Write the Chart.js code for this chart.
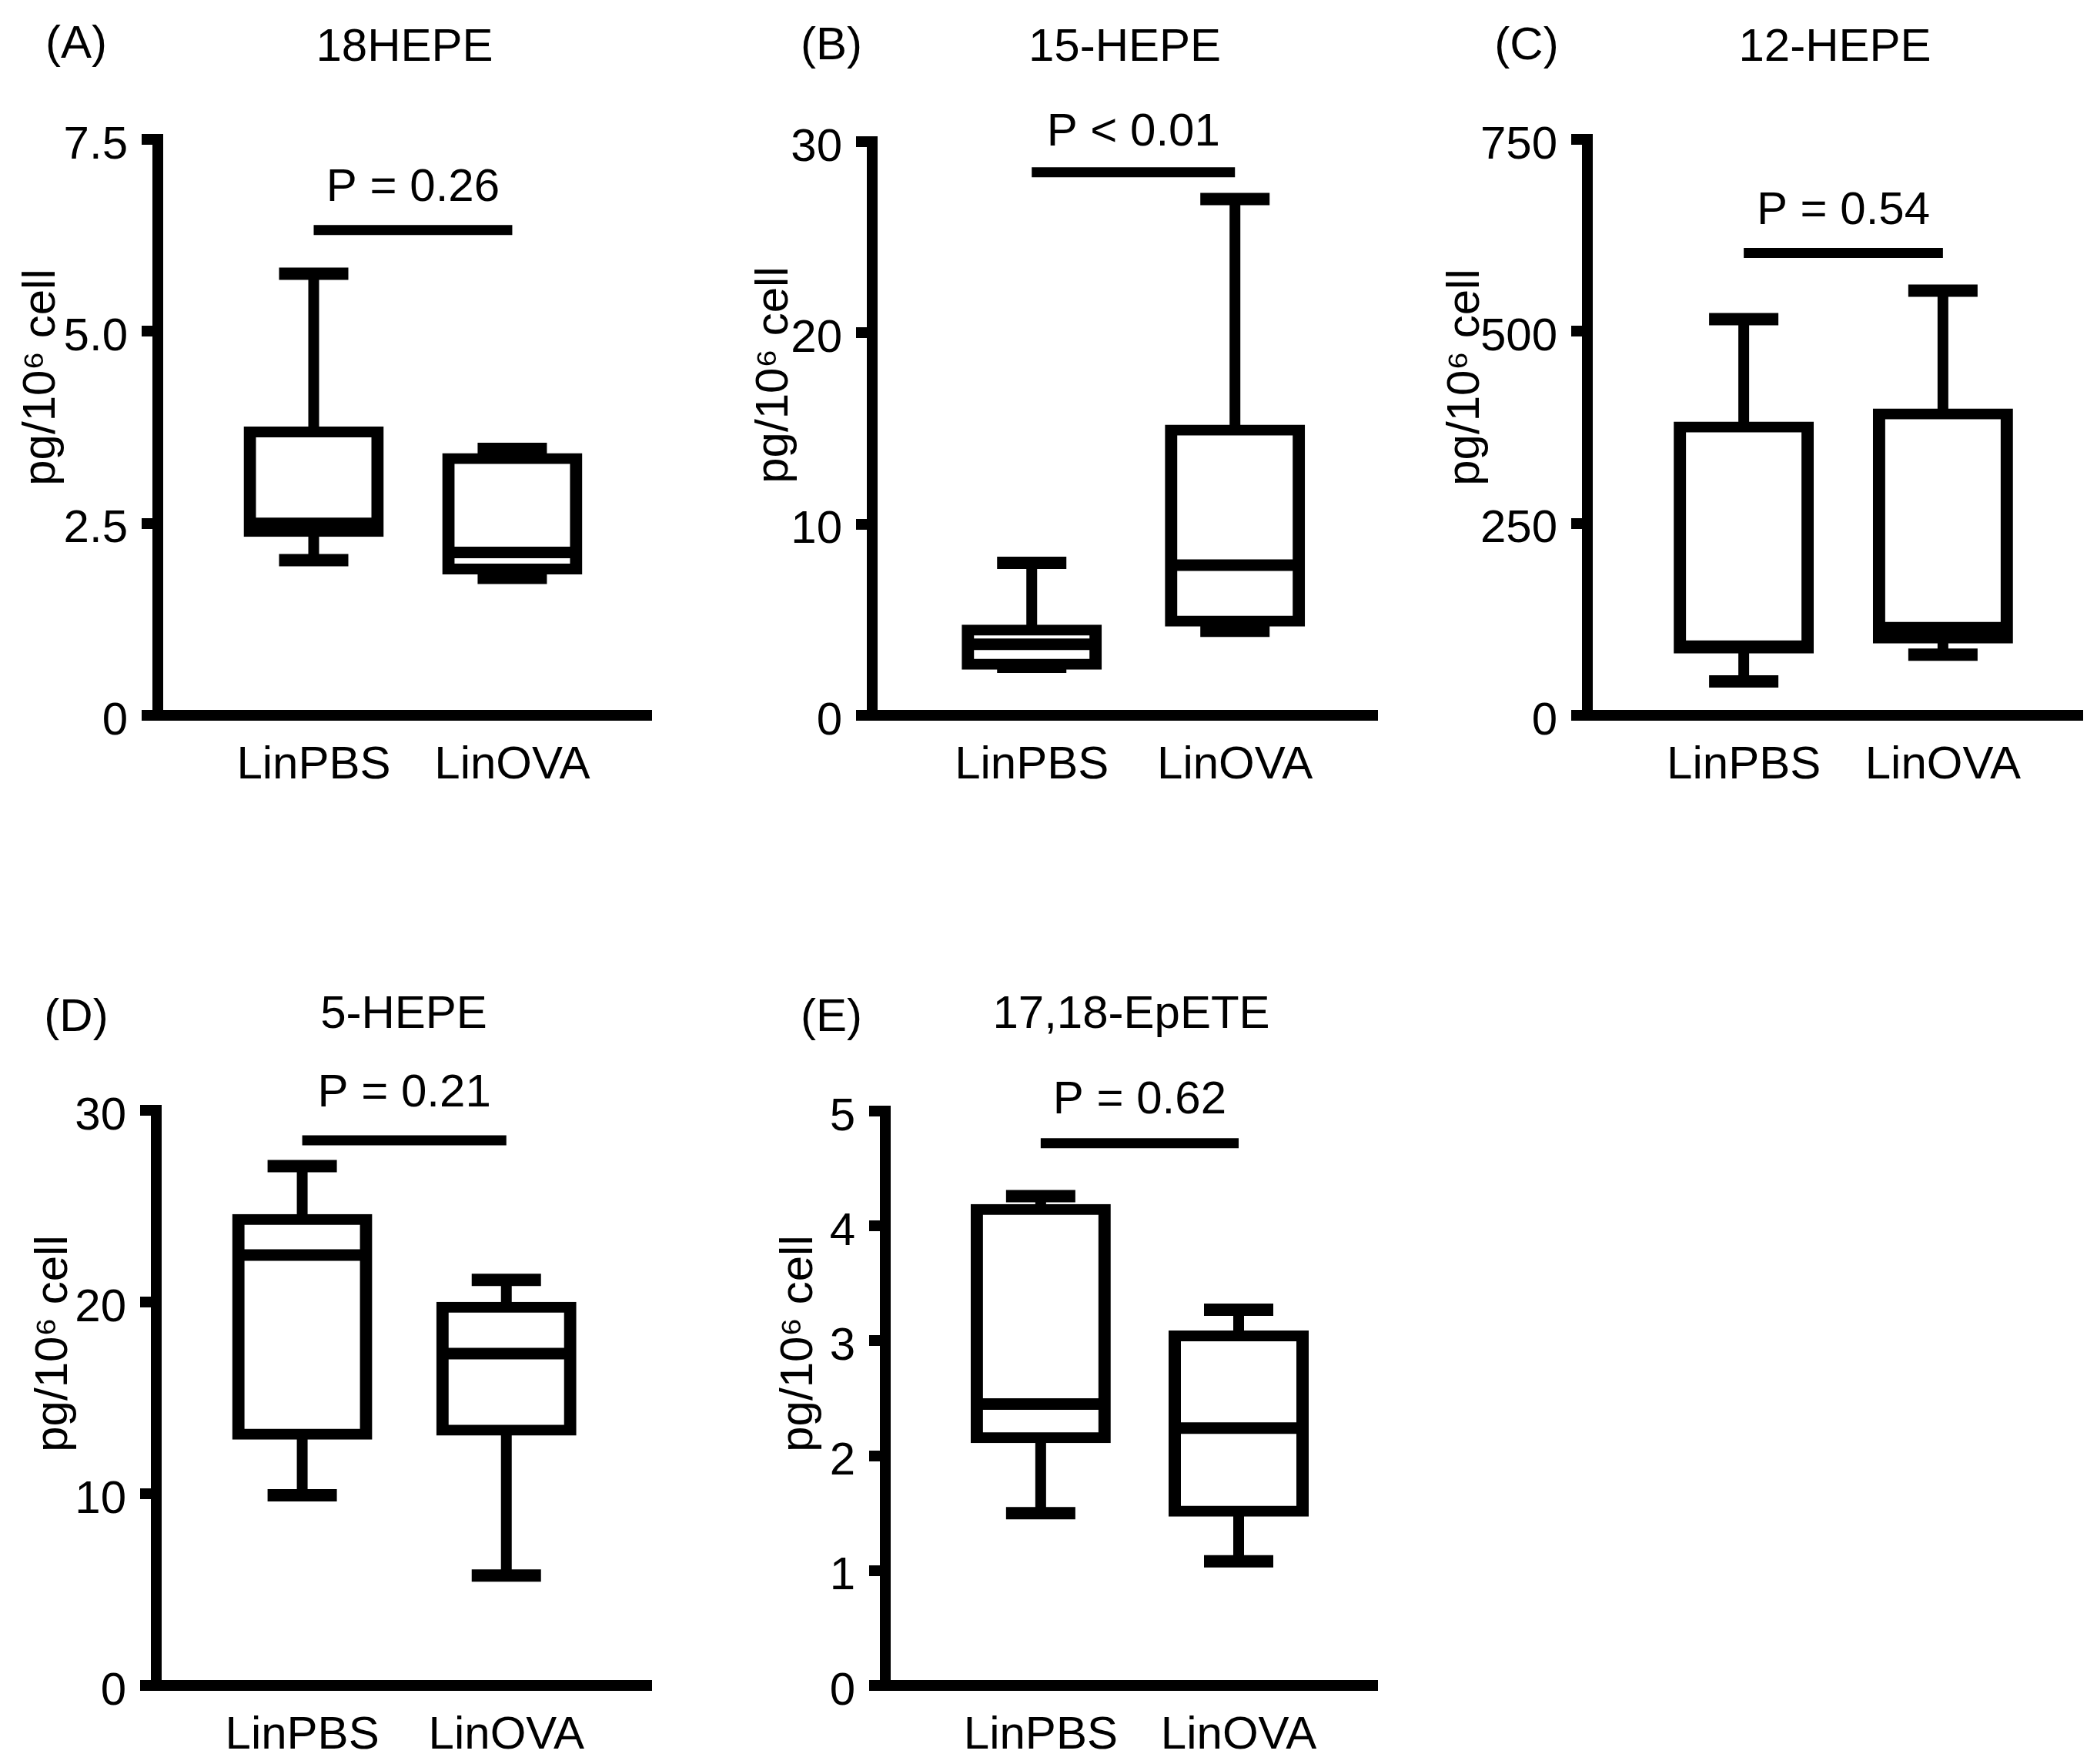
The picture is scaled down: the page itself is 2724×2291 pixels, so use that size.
<!DOCTYPE html>
<html><head><meta charset="utf-8">
<script src="https://cdn.jsdelivr.net/npm/chart.js@4.4.1/dist/chart.umd.min.js"></script>
<style>
html,body{margin:0;padding:0;background:#fff;}
body{width:2724px;height:2291px;position:relative;overflow:hidden;}
canvas{position:absolute;}
</style></head><body>
<canvas id="cA" width="900" height="1150" style="left:0px;top:0px"></canvas>
<canvas id="cB" width="930" height="1150" style="left:900px;top:0px"></canvas>
<canvas id="cC" width="894" height="1150" style="left:1830px;top:0px"></canvas>
<canvas id="cD" width="900" height="1032" style="left:0px;top:1259px"></canvas>
<canvas id="cE" width="930" height="1032" style="left:900px;top:1259px"></canvas>
<script>
// ---------- DATA ----------
const categories = ['LinPBS', 'LinOVA'];
const panelTitles = ['18HEPE', '15-HEPE', '12-HEPE', '5-HEPE', '17,18-EpETE'];
const panelLetters = ['(A)', '(B)', '(C)', '(D)', '(E)'];
const yAxisLabel = 'pg/10\u2076 cell';
const pValueLabels = ['P = 0.26', 'P < 0.01', 'P = 0.54', 'P = 0.21', 'P = 0.62'];
// box statistics: [min, Q1, median, Q3, max]
const hepe18PBS = [2.02, 2.40, 2.50, 3.685, 5.75];
const hepe18OVA = [1.79, 1.91, 2.12, 3.34, 3.47];
const hepe15PBS = [2.54, 2.69, 3.71, 4.44, 7.97];
const hepe15OVA = [4.42, 4.94, 7.85, 14.9, 27.0];
const hepe12PBS = [44, 88, 90, 375, 516];
const hepe12OVA = [79, 101, 114, 392, 553];
const hepe5PBS = [9.92, 13.12, 22.45, 24.29, 27.09];
const hepe5OVA = [5.73, 13.33, 17.31, 19.71, 21.15];
const epete1718PBS = [1.50, 2.16, 2.45, 4.14, 4.26];
const epete1718OVA = [1.08, 1.52, 2.24, 3.04, 3.27];
// y-axis ticks
const yTicksA = [0, 2.5, 5, 7.5];      const yTickLabelsA = ['0', '2.5', '5.0', '7.5'];
const yTicksB = [0, 10, 20, 30];       const yTickLabelsB = ['0', '10', '20', '30'];
const yTicksC = [0, 250, 500, 750];    const yTickLabelsC = ['0', '250', '500', '750'];
const yTicksD = [0, 10, 20, 30];       const yTickLabelsD = ['0', '10', '20', '30'];
const yTicksE = [0, 1, 2, 3, 4, 5];    const yTickLabelsE = ['0', '1', '2', '3', '4', '5'];
// significance bar height and p-label height (data units)
const pBarY = [6.32, 28.4, 602, 28.43, 4.72];
const pTextY = [6.86, 30.48, 656, 30.85, 5.09];

// ---------- LAYOUT (pixels, not data) ----------
const FONT = "'Liberation Sans', Arial, Helvetica, sans-serif";
const FS = 60;
Chart.defaults.font.family = FONT;
Chart.defaults.color = '#000';

const layouts = [
  {id:'cA', yWidth:205, padRight:54, padTop:26, titleBottom:83, padBottom:121, xmin:0.215, xmax:2.7, letterX:99, letterY:58, ylabX:54, ylabY:490},
  {id:'cB', yWidth:233, padRight:41, padTop:26, titleBottom:86, padBottom:121, xmin:0.215, xmax:2.7, letterX:180, letterY:60, ylabX:106, ylabY:487},
  {id:'cC', yWidth:232, padRight:19, padTop:26, titleBottom:83, padBottom:121, xmin:0.215, xmax:2.7, letterX:153, letterY:60, ylabX:74, ylabY:490},
  {id:'cD', yWidth:203, padRight:54, padTop:23, titleBottom:88, padBottom:2, xmin:0.285, xmax:2.71, letterX:99, letterY:63, ylabX:70, ylabY:486},
  {id:'cE', yWidth:250, padRight:41, padTop:23, titleBottom:89, padBottom:2, xmin:0.215, xmax:2.7, letterX:180, letterY:63, ylabX:138, ylabY:486}
];

const panelStats = [
  [hepe18PBS, hepe18OVA], [hepe15PBS, hepe15OVA], [hepe12PBS, hepe12OVA],
  [hepe5PBS, hepe5OVA], [epete1718PBS, epete1718OVA]
];
const panelTicks = [yTicksA, yTicksB, yTicksC, yTicksD, yTicksE];
const panelTickLabels = [yTickLabelsA, yTickLabelsB, yTickLabelsC, yTickLabelsD, yTickLabelsE];

const LW = 14;        // axis line width
const BOX_W = 182;    // box outer width
const CAP_W = 90;     // whisker cap width
const INFL = 7.5;

const extraText = {
  id: 'extraText',
  afterDraw(chart, args, o) {
    const ctx = chart.ctx;
    ctx.save();
    ctx.fillStyle = '#000';
    ctx.font = FS + 'px ' + FONT;
    ctx.textAlign = 'center';
    ctx.textBaseline = 'middle';
    ctx.fillText(o.letter, o.letterX, o.letterY);
    const xs = chart.scales.x, ys = chart.scales.y;
    ctx.fillText(o.pText, xs.getPixelForValue(1.5), ys.getPixelForValue(o.pTextY));
    ctx.translate(o.ylabX, o.ylabY);
    ctx.rotate(-Math.PI / 2);
    ctx.fillText(yAxisLabel, 0, 0);
    ctx.restore();
  }
};

function buildPanel(i) {
  const L = layouts[i];
  const stats = panelStats[i];
  const ticks = panelTicks[i];
  const tickLabels = panelTickLabels[i];
  const pts = (k) => stats.map((s, j) => ({x: j + 1, y: s[k]}));
  const rng = (a, b) => stats.map((s, j) => ({x: j + 1, y: [s[a], s[b]]}));
  const capData = [];
  stats.forEach((s, j) => { capData.push({x: j + 1, y: s[0]}); capData.push({x: j + 1, y: s[4]}); });

  const datasets = [
    {type:'bar', label:'lower whisker', data: rng(0, 1), backgroundColor:'#000', borderWidth:0,
      barThickness:14, grouped:false, inflateAmount:0, order:6, clip:false},
    {type:'bar', label:'upper whisker', data: rng(3, 4), backgroundColor:'#000', borderWidth:0,
      barThickness:14, grouped:false, inflateAmount:0, order:5, clip:false},
    {type:'bar', label:'box', data: rng(1, 3), backgroundColor:'#fff', borderColor:'#000',
      borderWidth:{left:16, right:16, top:14, bottom:14}, borderSkipped:false,
      barThickness:BOX_W - 2 * INFL, inflateAmount:INFL,
      grouped:false, order:4, clip:false},
    {type:'line', label:'caps', data: capData, showLine:false, pointStyle:'line',
      pointRadius:CAP_W / 2, pointBorderWidth:16, pointBorderColor:'#000', pointBackgroundColor:'#000',
      order:3, clip:false},
    {type:'line', label:'median', data: pts(2), showLine:false, pointStyle:'line',
      pointRadius:BOX_W / 2 - 2, pointBorderWidth:15, pointBorderColor:'#000', pointBackgroundColor:'#000',
      order:2, clip:false},
    {type:'line', label:'significance', data: [{x:1, y:pBarY[i]}, {x:2, y:pBarY[i]}],
      borderColor:'#000', borderWidth:13, borderCapStyle:'butt', pointRadius:0, order:1, clip:false}
  ];

  new Chart(document.getElementById(L.id), {
    type: 'bar',
    data: { datasets },
    plugins: [extraText],
    options: {
      responsive: false,
      animation: false,
      devicePixelRatio: 1,
      events: [],
      layout: { autoPadding: false, padding: { left: 0, right: L.padRight, top: L.padTop, bottom: L.padBottom } },
      plugins: {
        legend: { display: false },
        tooltip: { enabled: false },
        title: {
          display: true, text: panelTitles[i], fullSize: false, color: '#000',
          font: { family: FONT, size: FS, weight: 'normal' },
          padding: { top: 0, bottom: L.titleBottom }
        },
        extraText: {
          letter: panelLetters[i], letterX: L.letterX, letterY: L.letterY,
          pText: pValueLabels[i], pTextY: pTextY[i], ylabX: L.ylabX, ylabY: L.ylabY
        }
      },
      scales: {
        x: {
          type: 'linear', min: L.xmin, max: L.xmax, offset: false,
          afterBuildTicks: (s) => { s.ticks = categories.map((c, j) => ({value: j + 1})); },
          afterFit: (s) => { s.height = 100; s.paddingLeft = 0; s.paddingRight = 0; },
          grid: { display: false, drawTicks: false, offset: false },
          border: { display: true, color: '#000', width: LW },
          ticks: { padding: 29, color: '#000', font: { size: FS },
            callback: (v) => categories[Math.round(v) - 1] || '' }
        },
        y: {
          type: 'linear', min: ticks[0], max: ticks[ticks.length - 1],
          afterBuildTicks: (s) => { s.ticks = ticks.map(v => ({value: v})); },
          afterFit: (s) => { s.width = L.yWidth; },
          grid: { display: true, drawOnChartArea: false, drawTicks: true, tickLength: 21,
            color: '#000', lineWidth: LW, tickWidth: LW },
          border: { display: true, color: '#000', width: LW },
          ticks: { padding: 18, labelOffset: 8, color: '#000', font: { size: FS },
            callback: (v, idx) => tickLabels[idx] }
        }
      }
    }
  });
}

for (let i = 0; i < 5; i++) buildPanel(i);
</script>
</body></html>
